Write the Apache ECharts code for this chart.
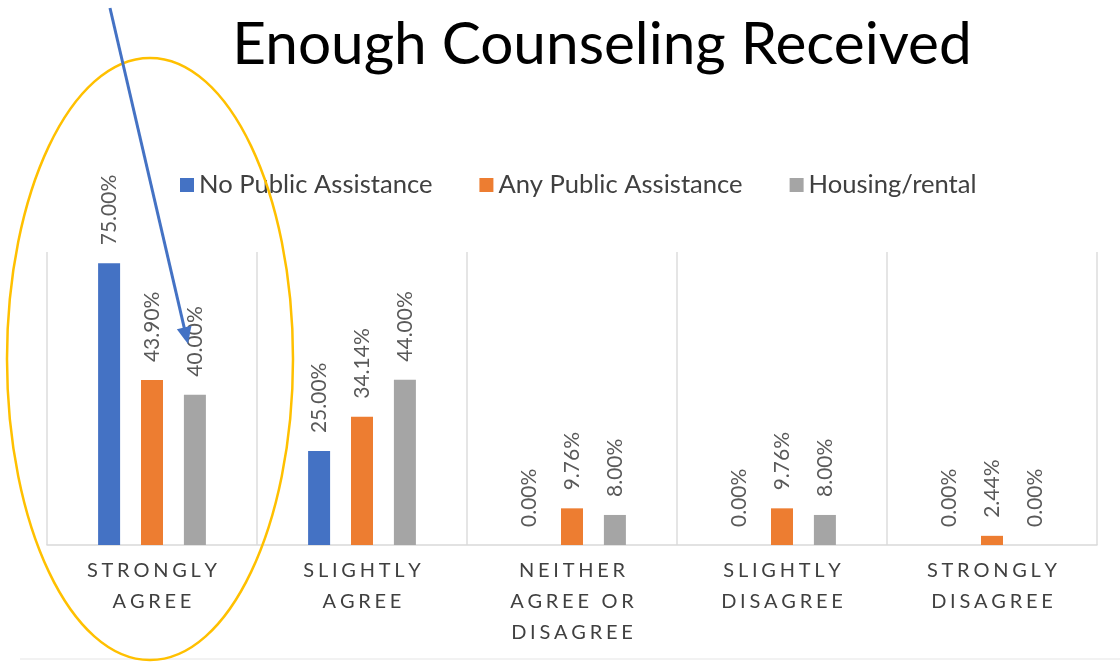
<!DOCTYPE html>
<html>
<head>
<meta charset="utf-8">
<script src="https://cdn.jsdelivr.net/npm/echarts@6/dist/echarts.min.js"></script>
<style>
  html, body { margin: 0; padding: 0; background: #ffffff; }
  #chart { width: 1120px; height: 662px; }
</style>
</head>
<body>
<div id="chart"></div>
<script>
// Survey answers to "Enough counseling received", split by assistance group (percent of respondents)
const categories = ['STRONGLY\nAGREE', 'SLIGHTLY\nAGREE', 'NEITHER\nAGREE OR\nDISAGREE', 'SLIGHTLY\nDISAGREE', 'STRONGLY\nDISAGREE'];
const seriesNames = ['No Public Assistance', 'Any Public Assistance', 'Housing/rental'];
const noPublicAssistance = [75.00, 25.00, 0.00, 0.00, 0.00];
const anyPublicAssistance = [43.90, 34.14, 9.76, 9.76, 2.44];
const housingRental = [40.00, 44.00, 8.00, 8.00, 0.00];
const seriesColors = ['#4472C4', '#ED7D31', '#A5A5A5'];

const chart = echarts.init(document.getElementById('chart'));

// Spread the letters of the category labels apart
function spaced(text) {
  return text.split('\n').map(line => line.split('').join('\u2009\u200A')).join('\n');
}

function barSeries(name, values, color) {
  return {
    name: name,
    type: 'bar',
    data: values,
    barWidth: 22,
    barGap: '95%',
    itemStyle: { color: color },
    label: {
      show: true,
      position: 'top',
      rotate: 90,
      align: 'left',
      verticalAlign: 'middle',
      distance: 18,
      color: '#595959',
      fontFamily: 'Lato',
      fontSize: 21,
      formatter: p => p.value.toFixed(2) + '%'
    }
  };
}

// Yellow ring around the first group and the pointer arrow onto its Housing/rental label
const arrowStart = [110, 8];
const arrowTip = [188, 344];
const dx = arrowTip[0] - arrowStart[0], dy = arrowTip[1] - arrowStart[1];
const len = Math.sqrt(dx * dx + dy * dy);
const ux = dx / len, uy = dy / len;
const headLen = 17, headHalf = 7.5;
const baseX = arrowTip[0] - ux * headLen, baseY = arrowTip[1] - uy * headLen;

chart.setOption({
  backgroundColor: '#ffffff',
  animation: false,
  title: {
    text: 'Enough Counseling Received',
    left: 597,
    textAlign: 'center',
    top: 11,
    textStyle: { fontFamily: 'Lato', fontWeight: 'normal', fontSize: 58.5, color: '#000000' }
  },
  legend: {
    data: seriesNames,
    top: 167,
    left: 175,
    itemWidth: 14,
    itemHeight: 14,
    itemGap: 47,
    icon: 'rect',
    textStyle: { fontFamily: 'Lato', fontSize: 25.6, color: '#404040' }
  },
  grid: { left: 47, right: 23, top: 252, bottom: 117 },
  xAxis: {
    type: 'category',
    data: categories,
    axisLine: { lineStyle: { color: '#D9D9D9', width: 1.5 } },
    axisTick: { show: false },
    splitLine: { show: true, lineStyle: { color: '#DDDDDD', width: 1.5 } },
    axisLabel: {
      margin: 10,
      color: '#404040',
      fontFamily: 'Lato',
      fontSize: 20,
      lineHeight: 31,
      formatter: spaced
    }
  },
  yAxis: {
    type: 'value',
    min: 0,
    max: 78,
    show: false,
    splitLine: { show: false }
  },
  series: [
    barSeries(seriesNames[0], noPublicAssistance, seriesColors[0]),
    barSeries(seriesNames[1], anyPublicAssistance, seriesColors[1]),
    barSeries(seriesNames[2], housingRental, seriesColors[2])
  ],
  graphic: [
    {
      type: 'line',
      shape: { x1: 20, y1: 659, x2: 1120, y2: 659 },
      style: { stroke: '#EEEEEE', lineWidth: 1.5 },
      z: 1
    },
    {
      type: 'ellipse',
      shape: { cx: 150, cy: 359, rx: 143, ry: 301 },
      style: { fill: null, stroke: '#FFC000', lineWidth: 2.5 },
      z: 100
    },
    {
      type: 'line',
      shape: { x1: arrowStart[0], y1: arrowStart[1], x2: baseX + ux * 2, y2: baseY + uy * 2 },
      style: { stroke: '#4472C4', lineWidth: 3 },
      z: 101
    },
    {
      type: 'polygon',
      shape: {
        points: [
          arrowTip,
          [baseX + uy * headHalf, baseY - ux * headHalf],
          [baseX - uy * headHalf, baseY + ux * headHalf]
        ]
      },
      style: { fill: '#4472C4' },
      z: 101
    }
  ]
});
</script>
</body>
</html>
